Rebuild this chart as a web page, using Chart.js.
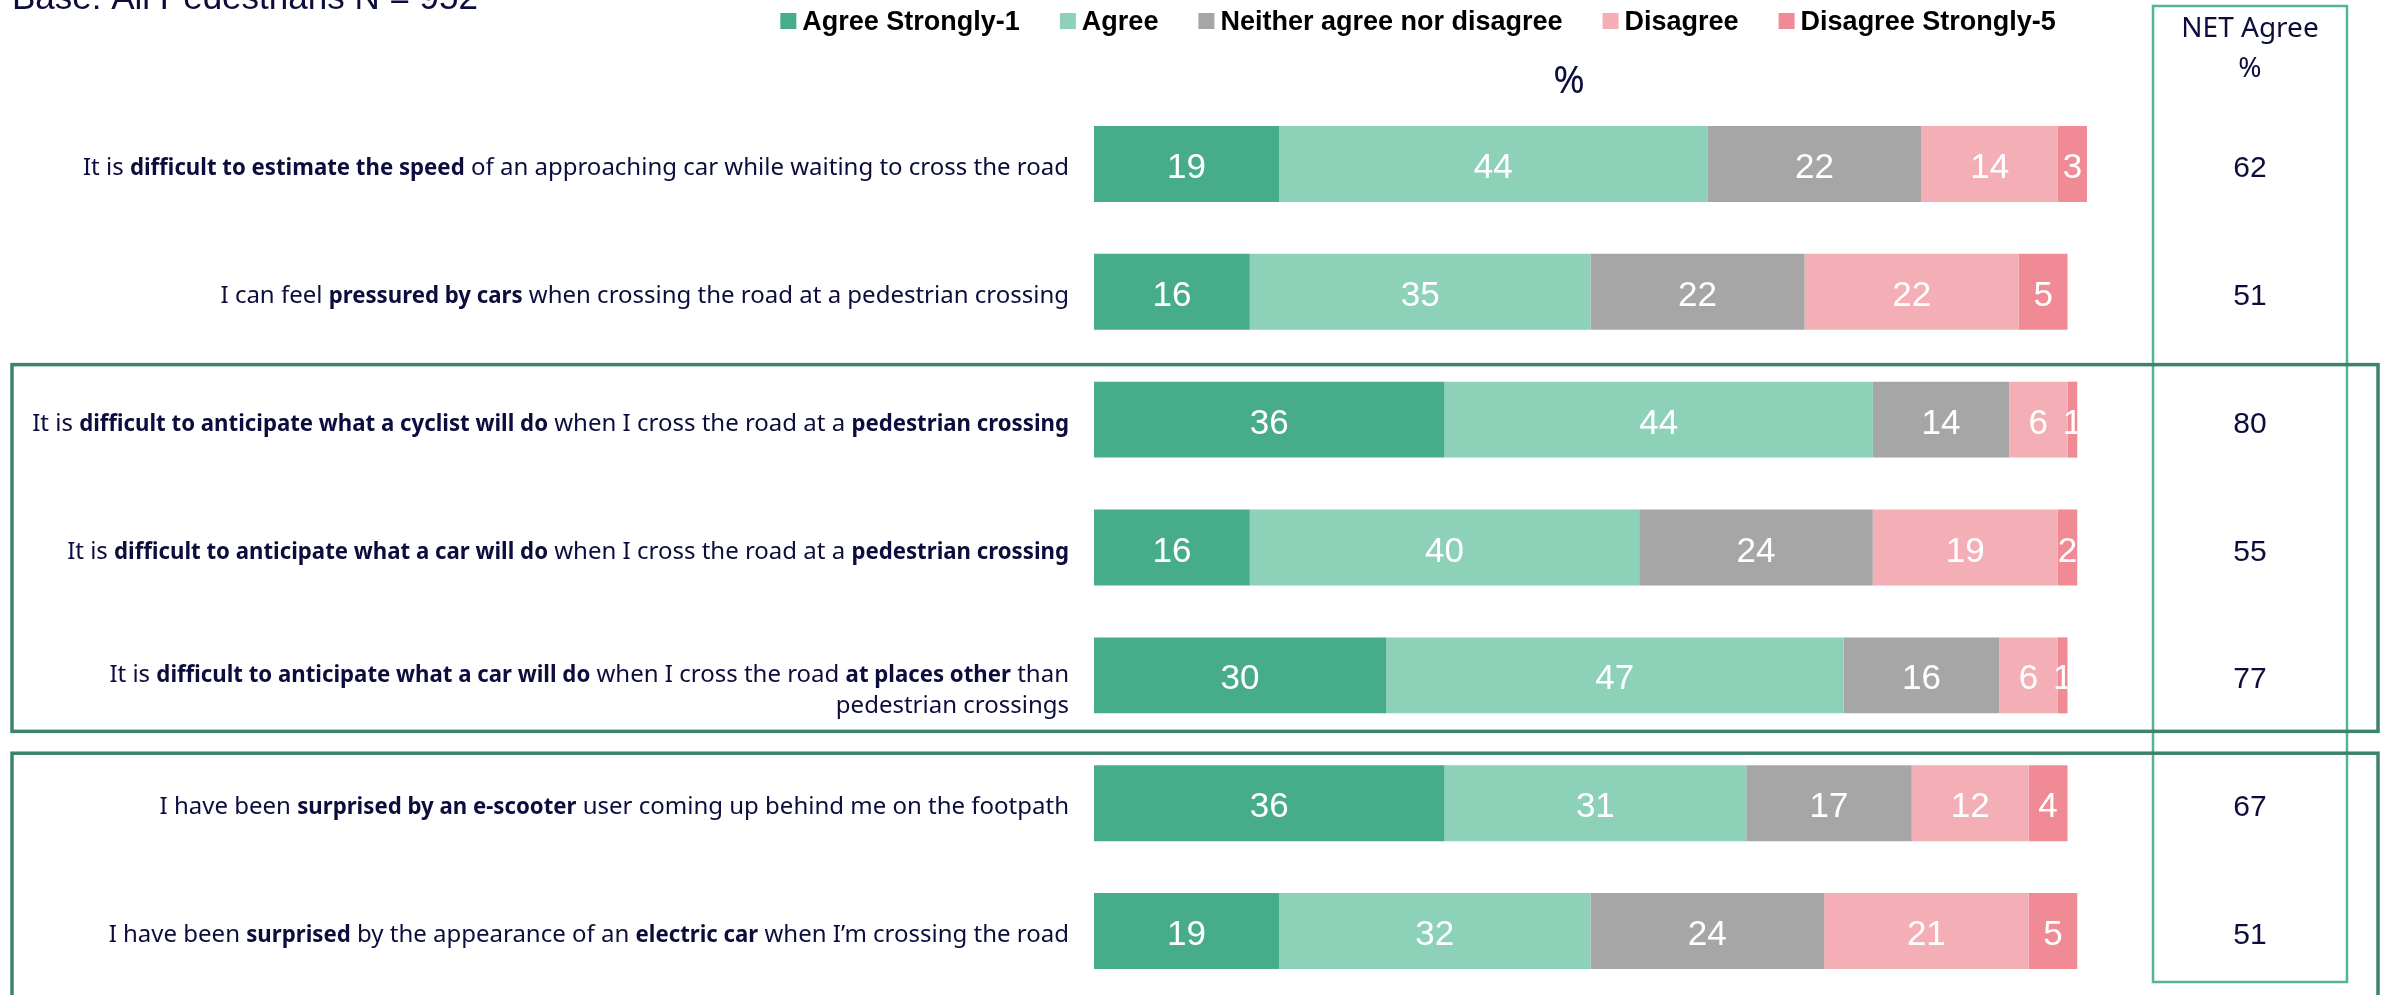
<!DOCTYPE html>
<html>
<head>
<meta charset="utf-8">
<script src="https://cdn.jsdelivr.net/npm/chart.js@4.4.1/dist/chart.umd.min.js"></script>
<style>
  html, body { margin: 0; padding: 0; background: #ffffff; }
  canvas { display: block; }
</style>
</head>
<body>
<canvas id="chart" width="2387" height="995"></canvas>
<script>
// Survey responses, % of pedestrians (rows top to bottom)
const seriesNames = ['Agree Strongly-1', 'Agree', 'Neither agree nor disagree', 'Disagree', 'Disagree Strongly-5'];
const seriesColors = ['#46AC8A', '#8DD1B9', '#A6A6A6', '#F4AEB5', '#F08A94'];

const agreeStrongly    = [19, 16, 36, 16, 30, 36, 19];
const agree            = [44, 35, 44, 40, 47, 31, 32];
const neither          = [22, 22, 14, 24, 16, 17, 24];
const disagree         = [14, 22,  6, 19,  6, 12, 21];
const disagreeStrongly = [ 3,  5,  1,  2,  1,  4,  5];
const netAgree         = [62, 51, 80, 55, 77, 67, 51];

// Statement texts: each row is a list of lines, each line a list of [text, isBold]
const statements = [
  [[['It is ', 0], ['difficult to estimate the speed', 1], [' of an approaching car while waiting to cross the road', 0]]],
  [[['I can feel ', 0], ['pressured by cars', 1], [' when crossing the road at a pedestrian crossing', 0]]],
  [[['It is ', 0], ['difficult to anticipate what a cyclist will do', 1], [' when I cross the road at a ', 0], ['pedestrian crossing', 1]]],
  [[['It is ', 0], ['difficult to anticipate what a car will do', 1], [' when I cross the road at a ', 0], ['pedestrian crossing', 1]]],
  [[['It is ', 0], ['difficult to anticipate what a car will do', 1], [' when I cross the road ', 0], ['at places other', 1], [' than', 0]],
   [['pedestrian crossings', 0]]],
  [[['I have been ', 0], ['surprised by an e-scooter', 1], [' user coming up behind me on the footpath', 0]]],
  [[['I have been ', 0], ['surprised', 1], [' by the appearance of an ', 0], ['electric car', 1], [' when I\u2019m crossing the road', 0]]]
];
const categories = statements.map(r => r.map(l => l.map(s => s[0]).join('')).join(' '));

const baseText = 'Base: All Pedestrians N = 952';
const netHeader = ['NET Agree', '%'];

// Rows enclosed in frames (index ranges)
const frames = [{ from: 2, to: 4, above: 55, below: 56 }, { from: 5, to: 6, above: 50, below: 80 }];

const INK = '#0D0D3D';
const SANS = "'Liberation Sans', Arial, sans-serif";
const HUMAN = "'Noto Sans', 'Open Sans', sans-serif";
const LABEL_SIZE = 24;
const BOLD_SQUEEZE = 0.925; // bold runs are set slightly condensed

const seriesValues = [agreeStrongly, agree, neither, disagree, disagreeStrongly];

function drawRich(ctx, segs, right, y) {
  const fonts = segs.map(s => (s[1] ? 'bold ' : '') + LABEL_SIZE + 'px ' + HUMAN);
  const sx = segs.map(s => (s[1] ? BOLD_SQUEEZE : 1));
  let total = 0;
  const widths = segs.map((s, i) => {
    ctx.font = fonts[i];
    const w = ctx.measureText(s[0]).width * sx[i];
    total += w;
    return w;
  });
  let x = right - total;
  segs.forEach((s, i) => {
    ctx.font = fonts[i];
    ctx.save();
    ctx.translate(x, y);
    ctx.scale(sx[i], 1);
    ctx.fillText(s[0], 0, 0);
    ctx.restore();
    x += widths[i];
  });
}

const decorations = {
  id: 'decorations',
  afterDatasetsDraw(chart) {
    const ctx = chart.ctx;
    const xs = chart.scales.x, ys = chart.scales.y;
    const area = chart.chartArea;
    ctx.save();

    // value labels inside the segments, clipped to each row's bar
    ctx.textAlign = 'center';
    ctx.textBaseline = 'alphabetic';
    ctx.fillStyle = '#ffffff';
    ctx.font = '35px ' + SANS;
    categories.forEach((c, r) => {
      const total = seriesValues.reduce((a, s) => a + s[r], 0);
      const end = xs.getPixelForValue(total);
      const yc = ys.getPixelForValue(r);
      ctx.save();
      ctx.beginPath();
      ctx.rect(area.left, yc - 60, end - area.left, 120);
      ctx.clip();
      chart.data.datasets.forEach((ds, d) => {
        const bar = chart.getDatasetMeta(d).data[r];
        const cx = (bar.x + bar.base) / 2;
        ctx.fillText(String(ds.data[r]), cx, yc + 14);
      });
      ctx.restore();
    });

    // statement labels, right-aligned next to the bars
    ctx.fillStyle = INK;
    ctx.textAlign = 'left';
    const right = area.left - 25;
    statements.forEach((lines, r) => {
      const yc = ys.getPixelForValue(r);
      if (lines.length === 1) {
        drawRich(ctx, lines[0], right, yc + 11);
      } else {
        lines.forEach((l, i) => drawRich(ctx, l, right, yc + 7 + i * 31));
      }
    });

    // NET agree column
    const netX = 2250;
    ctx.textAlign = 'center';
    ctx.font = '30px ' + SANS;
    netAgree.forEach((v, r) => {
      ctx.fillText(String(v), netX, ys.getPixelForValue(r) + 13);
    });
    ctx.font = '28px ' + HUMAN;
    ctx.fillText(netHeader[0], netX, 37);
    ctx.fillText(netHeader[1], netX, 77);

    // % over the bars
    ctx.font = '38px ' + HUMAN;
    ctx.fillText('%', 1569, 93);

    // base text
    ctx.textAlign = 'left';
    ctx.font = '35px ' + SANS;
    ctx.fillText(baseText, 12, 9);

    // legend
    ctx.font = 'bold 27px ' + SANS;
    const box = 16, boxGap = 6, itemGap = 40;
    const widths = seriesNames.map(n => ctx.measureText(n).width);
    const full = widths.reduce((a, w) => a + box + boxGap + w, 0) + itemGap * (seriesNames.length - 1);
    let lx = 1418 - full / 2;
    seriesNames.forEach((n, i) => {
      ctx.fillStyle = seriesColors[i];
      ctx.fillRect(lx, 13, box, box);
      ctx.fillStyle = '#000000';
      ctx.fillText(n, lx + box + boxGap, 30);
      lx += box + boxGap + widths[i] + itemGap;
    });

    // frames
    ctx.strokeStyle = '#52B690';
    ctx.lineWidth = 2.5;
    ctx.strokeRect(2153, 6, 194, 976);

    ctx.strokeStyle = '#3C8469';
    ctx.lineWidth = 3.5;
    frames.forEach(f => {
      const top = ys.getPixelForValue(f.from) - f.above;
      const bottom = ys.getPixelForValue(f.to) + f.below;
      ctx.strokeRect(12, top, 2378 - 12, bottom - top);
    });

    ctx.restore();
  }
};

new Chart(document.getElementById('chart'), {
  type: 'bar',
  data: {
    labels: categories,
    datasets: seriesNames.map((name, i) => ({
      label: name,
      data: seriesValues[i],
      backgroundColor: seriesColors[i],
      borderWidth: 0,
      barPercentage: 0.594,
      categoryPercentage: 1
    }))
  },
  options: {
    indexAxis: 'y',
    responsive: false,
    animation: false,
    layout: { padding: { left: 1094, right: 300, top: 100, bottom: 0 } },
    scales: {
      x: { stacked: true, min: 0, max: 102, display: false },
      y: { stacked: true, display: false }
    },
    plugins: {
      legend: { display: false },
      tooltip: { enabled: false }
    }
  },
  plugins: [decorations]
});
</script>
</body>
</html>
